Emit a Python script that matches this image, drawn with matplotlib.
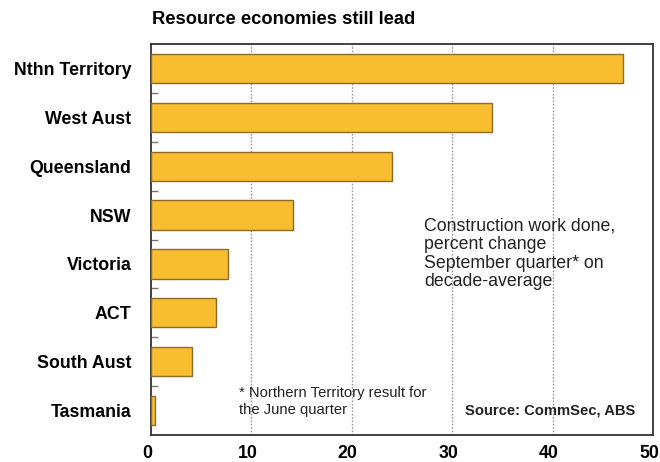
import matplotlib.pyplot as plt
from matplotlib.ticker import FixedLocator
from matplotlib.transforms import ScaledTranslation

plt.rcParams['font.family'] = ['Liberation Sans', 'DejaVu Sans']

# Construction work done, % change on decade average
states = ['Nthn Territory', 'West Aust', 'Queensland', 'NSW',
          'Victoria', 'ACT', 'South Aust', 'Tasmania']
pct_change = [47.0, 34.0, 24.0, 14.1, 7.7, 6.5, 4.1, 0.4]
x_ticks = [0, 10, 20, 30, 40, 50]

fig = plt.figure(figsize=(6.6, 4.62), dpi=100)
ax = fig.add_axes([151 / 660, 1 - 435 / 462, 502 / 660, 391 / 462])

ypos = list(range(len(states)))
ax.barh(ypos, pct_change, height=0.6, color='#F8BE30',
        edgecolor='#8C6A2C', linewidth=1.0, zorder=3)

ax.set_ylim(len(states) - 0.5, -0.5)
ax.set_xlim(0, 50)
ax.set_yticks(ypos)
ax.set_yticklabels(states, fontsize=12.8, fontweight='bold')
ax.yaxis.set_minor_locator(FixedLocator([i + 0.5 for i in range(len(states) - 1)]))
ax.tick_params(axis='y', which='major', length=0, pad=14)
ax.tick_params(axis='y', which='minor', length=5, direction='in',
               color='#777777', width=1)

ax.set_xticks(x_ticks)
ax.set_xticklabels([str(t) for t in x_ticks], fontsize=12.8, fontweight='bold')
ax.tick_params(axis='x', length=0, pad=7)
# nudge the x labels a little to the left so "50" stays on the canvas
shift = ScaledTranslation(-4 / 100, 0, fig.dpi_scale_trans)
for lbl in ax.get_xticklabels():
    lbl.set_transform(lbl.get_transform() + shift)

for x in x_ticks[1:-1]:
    ax.axvline(x, color='#999999', linestyle=(0, (1.2, 1.2)), linewidth=1, zorder=1)

for sp in ax.spines.values():
    sp.set_color('#333333')
    sp.set_linewidth(1.3)

fig.text(152 / 660, 1 - 20 / 462, 'Resource economies still lead',
         fontsize=13.2, fontweight='bold', va='center', ha='left')

ax.text(27.2, 3.05, 'Construction work done,\npercent change\nSeptember quarter* on\ndecade-average',
        fontsize=12.8, va='top', ha='left', color='#222222', linespacing=1.12)
ax.text(8.8, 6.5, '* Northern Territory result for\nthe June quarter',
        fontsize=10.6, va='top', ha='left', color='#222222', linespacing=1.25)
ax.text(48.2, 7.0, 'Source: CommSec, ABS', fontsize=10.6, fontweight='bold',
        va='center', ha='right', color='#222222')

fig.savefig('out.png', dpi=100)
